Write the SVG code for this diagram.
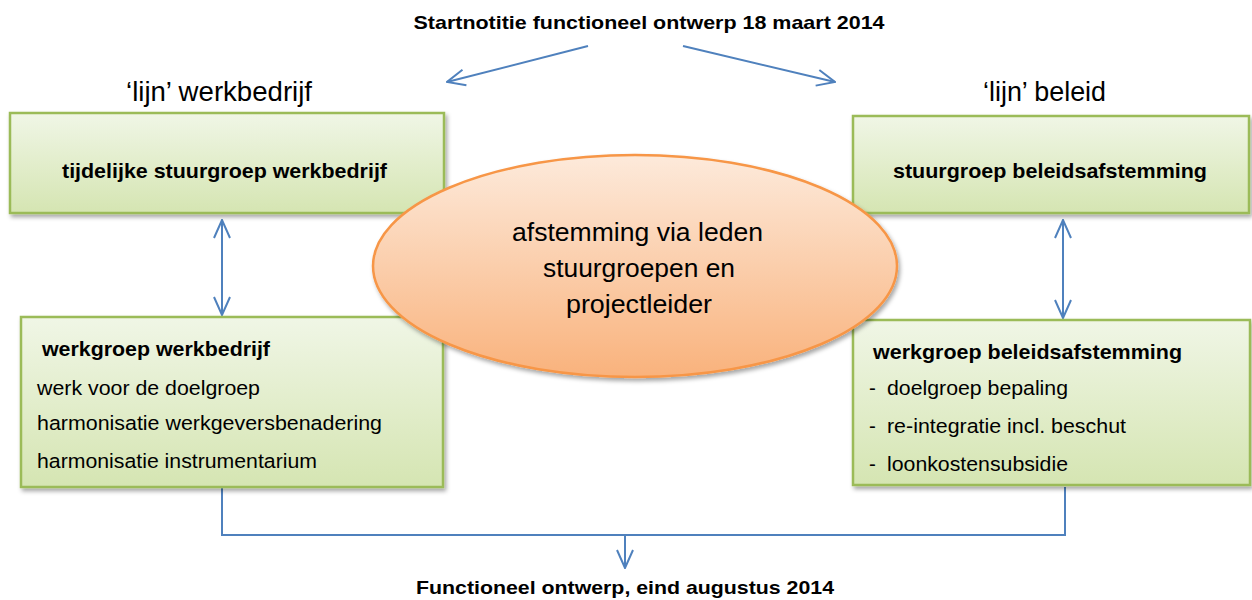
<svg xmlns="http://www.w3.org/2000/svg" width="1252" height="600" viewBox="0 0 1252 600">
<defs>
<linearGradient id="gGreen" x1="0" y1="0" x2="0" y2="1">
<stop offset="0" stop-color="#f0f6e6"/>
<stop offset="1" stop-color="#d5e5b2"/>
</linearGradient>
<linearGradient id="gOrange" x1="0" y1="0" x2="0" y2="1">
<stop offset="0" stop-color="#fdeadb"/>
<stop offset="1" stop-color="#f9b27c"/>
</linearGradient>
<filter id="sh" x="-5%" y="-10%" width="115%" height="130%">
<feDropShadow dx="2" dy="3" stdDeviation="2" flood-color="#000" flood-opacity="0.35"/>
</filter>
<marker id="arrBig" viewBox="0 0 20 20" refX="19" refY="10" markerWidth="20" markerHeight="20" markerUnits="userSpaceOnUse" orient="auto-start-reverse">
<path d="M1,2 L19,10 L1,18" fill="none" stroke="#4f81bd" stroke-width="2"/>
</marker>
</defs>
<style>
.box{fill:url(#gGreen);stroke:#9bbb59;stroke-width:2.5;filter:url(#sh)}
.b{font-family:"Liberation Sans",Arial,sans-serif;font-weight:bold;fill:#000}
.n{font-family:"Liberation Sans",Arial,sans-serif;fill:#000}
.con{fill:none;stroke:#4f81bd;stroke-width:2}
</style>
<rect width="1252" height="600" fill="#fff"/>

<g id="title-top">
<text class="b" x="649" y="29" font-size="19" text-anchor="middle" textLength="471" lengthAdjust="spacingAndGlyphs">Startnotitie functioneel ontwerp 18 maart 2014</text>
</g>
<g id="label-left">
<text class="n" x="219" y="101" font-size="27.5" text-anchor="middle" textLength="186" lengthAdjust="spacingAndGlyphs">‘lijn’ werkbedrijf</text>
</g>
<g id="label-right">
<text class="n" x="1044.5" y="101" font-size="27.5" text-anchor="middle" textLength="123" lengthAdjust="spacingAndGlyphs">‘lijn’ beleid</text>
</g>

<g id="connectors">
<line class="con" x1="588" y1="46" x2="447" y2="82" marker-end="url(#arrBig)"/>
<line class="con" x1="683" y1="46" x2="835" y2="82" marker-end="url(#arrBig)"/>
<line class="con" x1="222" y1="220" x2="222" y2="315" marker-start="url(#arrBig)" marker-end="url(#arrBig)"/>
<line class="con" x1="1063" y1="220" x2="1063" y2="318" marker-start="url(#arrBig)" marker-end="url(#arrBig)"/>
<polyline class="con" points="222,488 222,535 1065,535 1065,487"/>
<line class="con" x1="625" y1="535" x2="625" y2="568" marker-end="url(#arrBig)"/>
</g>

<g id="stuurgroep-werkbedrijf">
<rect class="box" x="10" y="113" width="434" height="100"/>
<text class="b" x="224.5" y="178" font-size="21" text-anchor="middle" textLength="325" lengthAdjust="spacingAndGlyphs">tijdelijke stuurgroep werkbedrijf</text>
</g>

<g id="stuurgroep-beleid">
<rect class="box" x="853" y="116" width="396" height="97"/>
<text class="b" x="1050" y="178" font-size="21" text-anchor="middle" textLength="314" lengthAdjust="spacingAndGlyphs">stuurgroep beleidsafstemming</text>
</g>

<g id="werkgroep-werkbedrijf">
<rect class="box" x="21" y="317" width="422" height="170"/>
<text class="b" x="42" y="356" font-size="21" textLength="228" lengthAdjust="spacingAndGlyphs">werkgroep werkbedrijf</text>
<text class="n" x="37" y="395" font-size="20.5" textLength="223" lengthAdjust="spacingAndGlyphs">werk voor de doelgroep</text>
<text class="n" x="37" y="430" font-size="20.5" textLength="345" lengthAdjust="spacingAndGlyphs">harmonisatie werkgeversbenadering</text>
<text class="n" x="37" y="468" font-size="20.5" textLength="280" lengthAdjust="spacingAndGlyphs">harmonisatie instrumentarium</text>
</g>

<g id="werkgroep-beleid">
<rect class="box" x="853" y="320" width="397" height="165"/>
<text class="b" x="873" y="359" font-size="21" textLength="309" lengthAdjust="spacingAndGlyphs">werkgroep beleidsafstemming</text>
<text class="n" x="869" y="395" font-size="20.5">-</text>
<text class="n" x="887" y="395" font-size="20.5" textLength="181" lengthAdjust="spacingAndGlyphs">doelgroep bepaling</text>
<text class="n" x="869" y="433" font-size="20.5">-</text>
<text class="n" x="887" y="433" font-size="20.5" textLength="239" lengthAdjust="spacingAndGlyphs">re-integratie incl. beschut</text>
<text class="n" x="869" y="471" font-size="20.5">-</text>
<text class="n" x="887" y="471" font-size="20.5" textLength="181" lengthAdjust="spacingAndGlyphs">loonkostensubsidie</text>
</g>

<g id="afstemming">
<ellipse cx="635" cy="266" rx="262" ry="111" fill="url(#gOrange)" stroke="#f79646" stroke-width="2.5" filter="url(#sh)"/>
<text class="n" x="637.5" y="241" font-size="26" text-anchor="middle" textLength="251" lengthAdjust="spacingAndGlyphs">afstemming via leden</text>
<text class="n" x="639" y="277" font-size="26" text-anchor="middle" textLength="192" lengthAdjust="spacingAndGlyphs">stuurgroepen en</text>
<text class="n" x="639" y="313" font-size="26" text-anchor="middle" textLength="146" lengthAdjust="spacingAndGlyphs">projectleider</text>
</g>

<g id="title-bottom">
<text class="b" x="625" y="594" font-size="19" text-anchor="middle" textLength="418" lengthAdjust="spacingAndGlyphs">Functioneel ontwerp, eind augustus 2014</text>
</g>
</svg>
